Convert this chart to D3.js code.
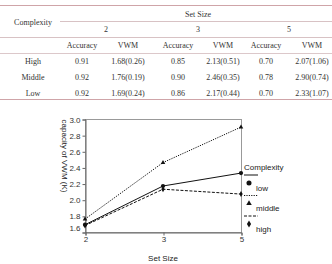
<!DOCTYPE html>
<html>
<head>
<meta charset="utf-8">
<script src="https://cdn.jsdelivr.net/npm/d3@7"></script>
<style>
  body { margin: 0; background: #fff; }
  svg { display: block; }
</style>
</head>
<body>
<svg id="chart" width="332" height="264"></svg>
<script>
// table data
const setSizes = ['2', '3', '5'];
const rowLabels = ['High', 'Middle', 'Low'];
const accuracy = [
  ['0.91', '0.85', '0.70'],
  ['0.92', '0.90', '0.78'],
  ['0.92', '0.86', '0.70'],
];
const vwm = [
  ['1.68(0.26)', '2.13(0.51)', '2.07(1.06)'],
  ['1.76(0.19)', '2.46(0.35)', '2.90(0.74)'],
  ['1.69(0.24)', '2.17(0.44)', '2.33(1.07)'],
];

// chart data (VWM means)
const complexity = ['low', 'middle', 'high'];
const lowVals = [1.69, 2.17, 2.33];
const middleVals = [1.76, 2.46, 2.90];
const highVals = [1.68, 2.13, 2.07];
const yTicks = [1.6, 1.8, 2.0, 2.2, 2.4, 2.6, 2.8, 3.0];

const svg = d3.select('#chart');

// ---- table ----
const serif = '"Liberation Serif", "Times New Roman", serif';
const tbl = svg.append('g')
  .attr('font-family', serif)
  .attr('font-size', 8)
  .attr('fill', '#333');

const colX = [82, 128, 178, 223, 266, 312];
const groupX = [106, 198, 289];

const hline = (y, x1, x2, color) => tbl.append('line')
  .attr('x1', x1).attr('x2', x2).attr('y1', y).attr('y2', y)
  .attr('stroke', color).attr('stroke-width', 1);

hline(5.5, 0, 332, '#cfa4a8');
hline(21.5, 60, 332, '#d8c2c4');
hline(37.5, 0, 332, '#d8c2c4');
hline(53.5, 0, 332, '#dcc8ca');
hline(99.5, 0, 332, '#cfa4a8');

const txt = (x, y, s) => tbl.append('text')
  .attr('x', x).attr('y', y)
  .attr('text-anchor', 'middle')
  .attr('dominant-baseline', 'central')
  .text(s);

txt(33, 22, 'Complexity');
txt(198, 14, 'Set Size');
setSizes.forEach((s, i) => txt(groupX[i], 29.5, s));
setSizes.forEach((s, i) => {
  txt(colX[i * 2], 45.5, 'Accuracy');
  txt(colX[i * 2 + 1], 45.5, 'VWM');
});
rowLabels.forEach((r, j) => {
  const y = 61.5 + j * 16;
  txt(33, y, r);
  setSizes.forEach((s, i) => {
    txt(colX[i * 2], y, accuracy[j][i]);
    txt(colX[i * 2 + 1], y, vwm[j][i]);
  });
});

// ---- line chart ----
const sans = '"Liberation Sans", Arial, sans-serif';
const plot = { left: 85, right: 241, top: 119, bottom: 232 };

const x = d3.scalePoint()
  .domain(setSizes)
  .range([plot.left, plot.right]);
const y = d3.scaleLinear()
  .domain([1.6, 3.0])
  .range([plot.bottom, plot.top]);

const g = svg.append('g')
  .attr('font-family', sans)
  .attr('font-size', 8)
  .attr('fill', '#222');

// frame
g.append('rect')
  .attr('x', plot.left + 0.5).attr('y', plot.top + 0.5)
  .attr('width', plot.right - plot.left).attr('height', plot.bottom - plot.top)
  .attr('fill', 'none').attr('stroke', '#999').attr('stroke-width', 1);

// y axis
const yAxis = g.append('g')
  .attr('transform', `translate(${plot.left + 0.5},0.5)`)
  .call(d3.axisLeft(y).tickValues(yTicks).tickFormat(d3.format('.1f')).tickSize(3).tickPadding(2));
yAxis.select('.domain').attr('stroke', '#666');
yAxis.selectAll('.tick line').attr('stroke', '#666');
yAxis.selectAll('.tick text')
  .attr('font-family', sans).attr('font-size', 8).attr('fill', '#333')
  .attr('dy', (d) => (d === 1.6 ? '-0.3em' : '0.32em'));

// x axis
const xAxis = g.append('g')
  .attr('transform', `translate(0.5,${plot.bottom + 0.5})`)
  .call(d3.axisBottom(x).tickSize(3).tickPadding(1));
xAxis.select('.domain').attr('stroke', '#666');
xAxis.selectAll('.tick line').attr('stroke', '#666');
xAxis.selectAll('.tick text')
  .attr('font-family', sans).attr('font-size', 8).attr('fill', '#333');

// axis titles
g.append('text')
  .attr('x', 163).attr('y', 258)
  .attr('text-anchor', 'middle')
  .attr('dominant-baseline', 'central')
  .text('Set Size');
g.append('text')
  .attr('transform', 'translate(64,156) rotate(90)')
  .attr('text-anchor', 'middle')
  .attr('dominant-baseline', 'central')
  .text('capacity of VWM (K)');

const series = [
  { name: 'low', values: lowVals, dash: null, symbol: d3.symbolCircle, size: 14, legendSize: 20 },
  { name: 'middle', values: middleVals, dash: '1.2,1.2', symbol: d3.symbolTriangle, size: 9, legendSize: 13 },
  { name: 'high', values: highVals, dash: '3,1.5', symbol: d3.symbolDiamond, size: 10, legendSize: 15 },
];

const line = d3.line()
  .x((d, i) => x(setSizes[i]))
  .y((d) => y(d));

series.forEach((s) => {
  g.append('path')
    .datum(s.values)
    .attr('d', line)
    .attr('fill', 'none')
    .attr('stroke', '#111')
    .attr('stroke-width', 1)
    .attr('stroke-dasharray', s.dash);
  g.selectAll(null)
    .data(s.values)
    .join('path')
    .attr('transform', (d, i) => `translate(${x(setSizes[i])},${y(d)})`)
    .attr('d', d3.symbol(s.symbol, s.size))
    .attr('fill', '#111');
});

// legend
const lg = g.append('g').attr('transform', 'translate(244,0)');
lg.append('text').attr('x', 0).attr('y', 167)
  .attr('dominant-baseline', 'central').text('Complexity');
series.forEach((s, i) => {
  const ly = 175 + i * 20.5;
  lg.append('line')
    .attr('x1', 0).attr('x2', 14).attr('y1', ly).attr('y2', ly)
    .attr('stroke', '#111').attr('stroke-width', 1)
    .attr('stroke-dasharray', s.dash);
  lg.append('path')
    .attr('transform', `translate(5,${ly + 8})`)
    .attr('d', d3.symbol(s.symbol, s.legendSize))
    .attr('fill', '#111');
  lg.append('text').attr('x', 12).attr('y', ly + 13)
    .attr('dominant-baseline', 'central').text(s.name);
});
</script>
</body>
</html>
